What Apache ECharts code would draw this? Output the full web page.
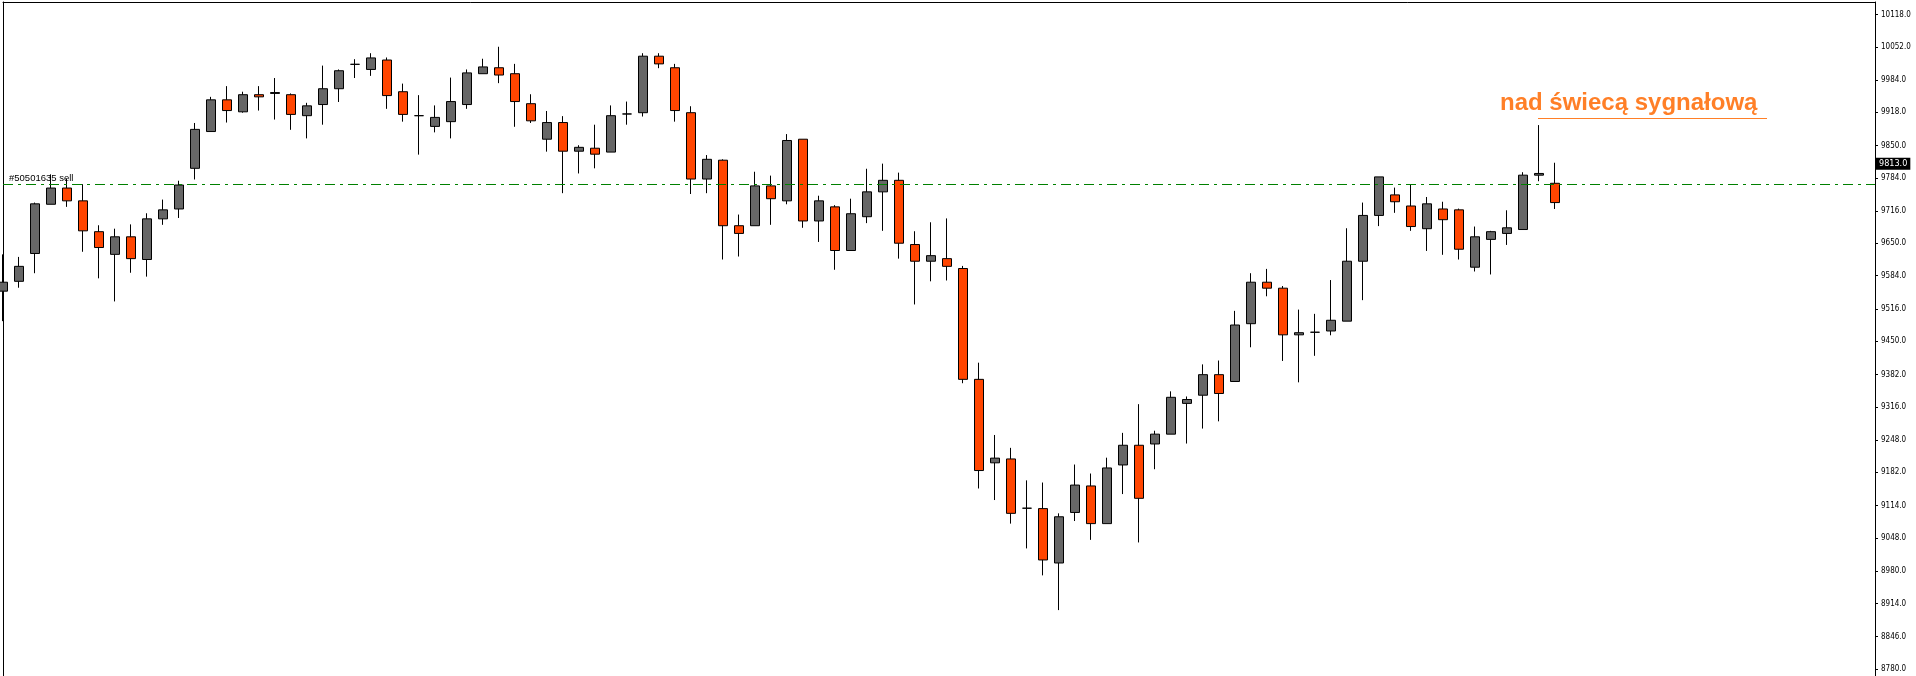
<!DOCTYPE html>
<html><head><meta charset="utf-8">
<script src="https://cdn.jsdelivr.net/npm/echarts@6/dist/echarts.min.js"></script>
<style>html,body{margin:0;padding:0;background:#fff;}#c{width:1916px;height:676px;}</style>
</head><body><div id="c"></div>
<script>
const opens = [
 9552.4, 9572.5, 9629.4, 9730.0, 9763.2, 9737.0, 9674.0, 9627.6, 9663.5, 9617.1,
 9700.2, 9720.4, 9803.5, 9878.7, 9943.5, 9919.0, 9954.0, 9956.6, 9954.0, 9911.1,
 9933.9, 9966.2, 10016.1, 10005.6, 10024.9, 9960.1, 9911.1, 9889.2, 9898.9, 9933.9,
 9996.9, 10009.1, 9996.9, 9935.6, 9863.0, 9897.1, 9838.5, 9844.6, 9836.7, 9914.6,
 9917.2, 10032.7, 10009.1, 9917.2, 9781.6, 9820.1, 9686.2, 9686.2, 9767.6, 9737.0,
 9863.0, 9695.9, 9724.7, 9635.5, 9704.6, 9755.4, 9779.0, 9647.7, 9613.6, 9618.9,
 9598.7, 9372.1, 9201.5, 9209.4, 9108.7, 9107.9, 8996.7, 9100.0, 9154.2, 9077.2,
 9197.1, 9237.4, 9240.0, 9260.1, 9323.0, 9339.7, 9381.7, 9367.7, 9485.9, 9570.7,
 9558.5, 9463.1, 9468.4, 9471.0, 9491.1, 9613.6, 9707.2, 9749.2, 9726.5, 9680.1,
 9720.4, 9718.6, 9601.4, 9658.2, 9670.4, 9678.4, 9789.5, 9772.9
];
const closes = [
 9570.7, 9603.1, 9730.9, 9763.2, 9737.0, 9675.7, 9641.6, 9663.5, 9618.9, 9700.2,
 9718.6, 9769.4, 9883.1, 9943.5, 9921.6, 9954.0, 9949.6, 9958.4, 9913.7, 9931.2,
 9966.2, 10003.0, 10016.1, 10029.2, 9952.2, 9913.7, 9911.1, 9907.6, 9940.0, 9998.6,
 10010.8, 9994.2, 9940.0, 9900.6, 9897.1, 9838.5, 9846.4, 9832.4, 9911.1, 9914.6,
 10032.7, 10017.0, 9921.6, 9781.6, 9821.9, 9686.2, 9670.4, 9767.6, 9741.4, 9860.4,
 9695.9, 9737.0, 9635.5, 9710.7, 9755.4, 9779.0, 9650.4, 9613.6, 9625.0, 9603.1,
 9372.1, 9185.7, 9211.1, 9098.2, 9108.7, 9002.9, 9091.2, 9156.0, 9077.2, 9191.0,
 9237.4, 9128.9, 9260.1, 9335.4, 9330.9, 9381.7, 9343.2, 9483.2, 9570.7, 9558.5,
 9463.1, 9467.5, 9468.4, 9492.9, 9613.6, 9707.2, 9786.0, 9735.2, 9684.5, 9730.9,
 9698.5, 9638.1, 9663.5, 9674.0, 9681.9, 9789.5, 9793.0, 9733.5
];
const lows = [
 9491.1, 9559.4, 9589.1, 9730.0, 9724.7, 9632.9, 9578.6, 9531.4, 9590.0, 9582.1,
 9688.0, 9702.0, 9780.7, 9878.7, 9897.1, 9917.2, 9921.6, 9903.2, 9882.2, 9864.7,
 9892.7, 9939.1, 9988.1, 9992.5, 9925.1, 9898.9, 9831.5, 9877.0, 9864.7, 9925.1,
 9996.9, 9977.6, 9888.4, 9896.2, 9837.6, 9752.7, 9793.0, 9803.5, 9836.7, 9892.7,
 9909.4, 10008.2, 9898.9, 9751.0, 9752.7, 9617.1, 9623.2, 9686.2, 9688.0, 9730.0,
 9681.9, 9653.0, 9596.1, 9635.5, 9691.5, 9675.7, 9618.9, 9525.2, 9572.5, 9574.2,
 9364.2, 9149.0, 9125.4, 9077.2, 9026.5, 8971.4, 8900.4, 9082.5, 9044.0, 9077.2,
 9137.6, 9038.7, 9188.4, 9260.1, 9240.9, 9271.5, 9286.3, 9367.7, 9437.7, 9541.9,
 9409.7, 9366.0, 9420.2, 9462.2, 9491.1, 9534.0, 9685.4, 9712.5, 9675.7, 9634.6,
 9626.7, 9617.1, 9592.6, 9586.5, 9646.9, 9678.4, 9777.2, 9720.4
];
const highs = [
 9627.6, 9622.4, 9733.5, 9791.2, 9782.5, 9771.1, 9687.1, 9680.1, 9688.9, 9711.6,
 9739.6, 9778.1, 9896.2, 9949.6, 9971.5, 9960.1, 9971.5, 9988.1, 9956.6, 9937.4,
 10013.5, 10005.6, 10026.6, 10038.8, 10030.1, 9976.7, 9953.1, 9932.1, 9989.0, 10005.6,
 10027.5, 10052.0, 10017.0, 9954.9, 9920.7, 9910.2, 9850.7, 9892.7, 9932.1, 9940.0,
 10038.8, 10038.8, 10017.0, 9930.4, 9830.6, 9821.9, 9709.0, 9796.5, 9788.6, 9873.5,
 9863.0, 9747.5, 9728.2, 9741.4, 9802.6, 9813.1, 9794.7, 9674.9, 9693.2, 9701.1,
 9604.0, 9406.2, 9258.4, 9232.1, 9165.6, 9161.2, 9098.2, 9198.0, 9179.6, 9212.0,
 9262.7, 9321.4, 9267.1, 9347.6, 9337.1, 9402.7, 9410.6, 9512.1, 9589.1, 9597.9,
 9562.9, 9514.7, 9506.0, 9575.1, 9681.0, 9733.5, 9786.0, 9764.1, 9769.4, 9744.9,
 9735.2, 9721.2, 9684.5, 9675.7, 9717.7, 9795.6, 9891.9, 9814.9
];
const tickLabels = [10118, 10052, 9984, 9918, 9850, 9784, 9716, 9650, 9584, 9516,
 9450, 9382, 9316, 9248, 9182, 9114, 9048, 8980, 8914, 8846, 8780];
const signalLevel = 9771.5;
const bidPrice = 9813.0;
const orderLabel = '#50501635 sell';
const annotationText = 'nad świecą sygnałową';
const totalSlots = 118;

const categories = Array.from({length: totalSlots}, (_, i) => String(i + 1));
const candles = opens.map((o, i) => [o, closes[i], lows[i], highs[i]]);
const yMin = 8765.7, yMax = 10143.5;

const chart = echarts.init(document.getElementById('c'), null, {renderer: 'canvas'});
chart.setOption({
  animation: false,
  backgroundColor: '#ffffff',
  grid: {left: 3, right: 41, top: 2, bottom: -2, show: false},
  xAxis: {
    type: 'category', data: categories, boundaryGap: false, position: 'top',
    axisLine: {show: true, lineStyle: {color: '#000', width: 1}},
    axisTick: {show: false}, axisLabel: {show: false}, splitLine: {show: false}
  },
  yAxis: [{
    type: 'value', position: 'right', min: yMin, max: yMax,
    splitLine: {show: false},
    axisLine: {show: true, lineStyle: {color: '#000', width: 1}},
    axisTick: {show: true, length: 3, inside: false, customValues: tickLabels, lineStyle: {color: '#000'}},
    axisLabel: {customValues: tickLabels, formatter: v => Number(v).toFixed(1), margin: 6, color: '#000', fontSize: 8, fontFamily: 'DejaVu Sans Condensed'}
  }, {
    type: 'value', position: 'left', min: yMin, max: yMax,
    splitLine: {show: false},
    axisLine: {show: true, onZero: false, lineStyle: {color: '#000', width: 1}},
    axisTick: {show: false}, axisLabel: {show: false}
  }],
  series: [{
    type: 'candlestick', data: candles, barWidth: 10, clip: true, yAxisIndex: 0,
    itemStyle: {color: '#666666', color0: '#FF4500', borderColor: '#000', borderColor0: '#000', borderColorDoji: '#000', borderWidth: 1},
    markLine: {
      silent: true, symbol: 'none', animation: false,
      data: [
        {yAxis: signalLevel, lineStyle: {color: '#008000', type: [10, 5, 3, 5], width: 1, opacity: 1},
         label: {show: true, position: 'insideStartTop', formatter: orderLabel, color: '#000', fontSize: 9.5, fontFamily: 'Liberation Sans', distance: [6, 1]}}
      ]
    }
  }, {
    type: 'line', data: [], clip: false, yAxisIndex: 0, silent: true,
    markLine: {
      silent: true, symbol: 'none', animation: false,
      data: [
        {yAxis: bidPrice, lineStyle: {color: 'rgba(0,0,0,0)', width: 0},
         label: {show: true, position: 'end', formatter: bidPrice.toFixed(1), color: '#fff', backgroundColor: '#000', padding: [2, 3, 1, 3], fontSize: 9, fontFamily: 'DejaVu Sans Condensed', distance: 1}}
      ]
    }
  }],
  graphic: [
    {type: 'text', left: 1500, top: 91, style: {text: annotationText, fill: '#FF7F27', font: 'bold 24px "Liberation Sans"'}},
    {type: 'line', shape: {x1: 1538, y1: 118.5, x2: 1767, y2: 118.5}, style: {stroke: '#FF7F27', lineWidth: 1}}
  ]
});
</script>
</body></html>
